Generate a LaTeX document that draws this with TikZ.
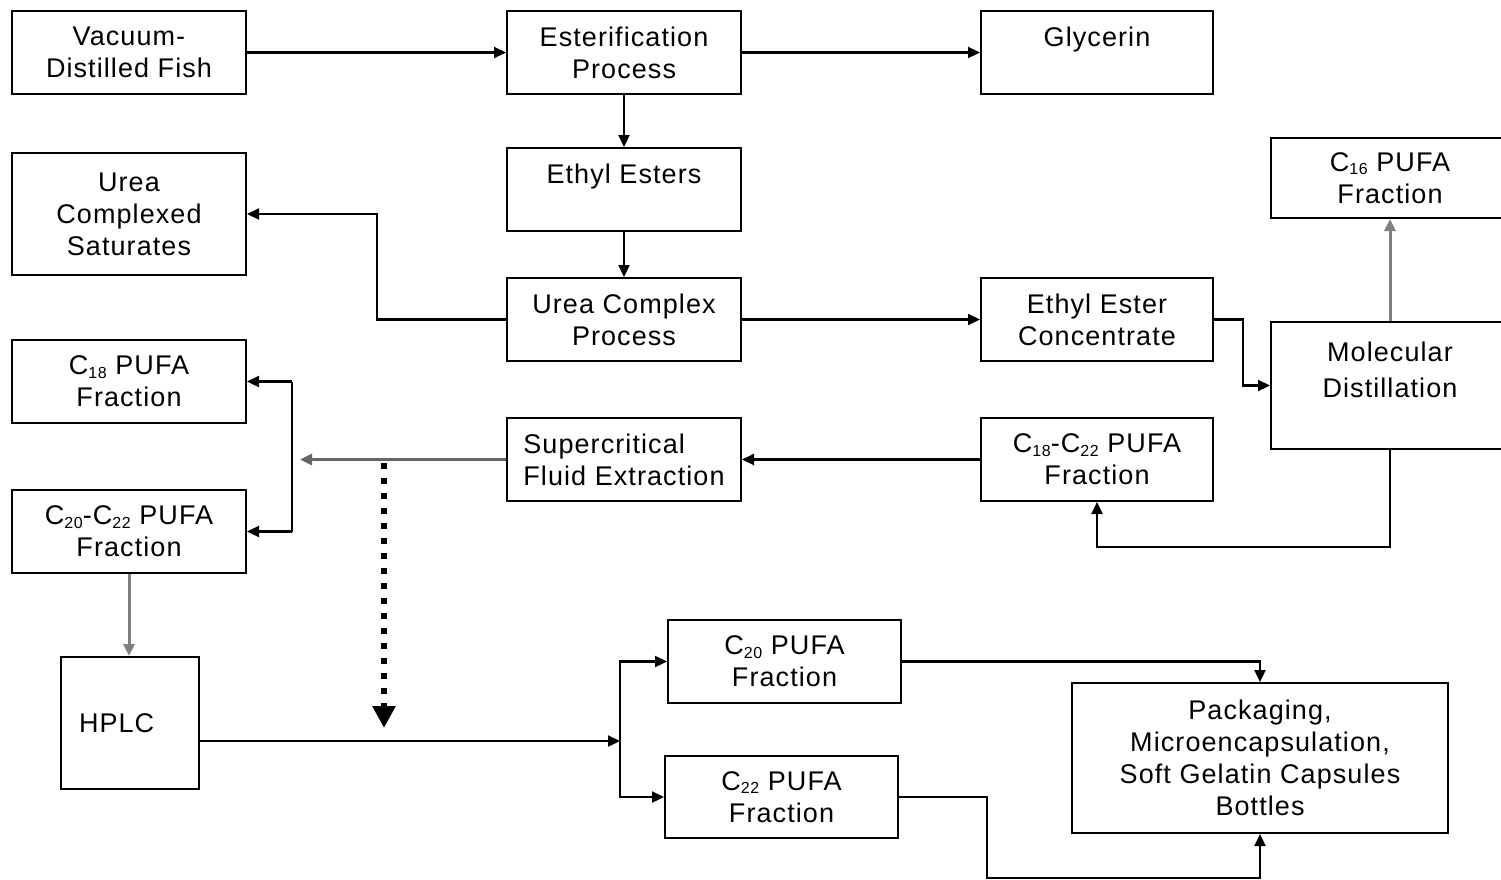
\documentclass[tikz,border=0pt]{standalone}
\usepackage{fontspec}
\setmainfont[LetterSpace=4]{Liberation Sans}
\usetikzlibrary{arrows.meta}
% small lowered digits for carbon-chain subscripts
\newcommand\chainsub[1]{\raisebox{-0.12em}{\fontsize{16}{16}\selectfont #1}}
\begin{document}
\begin{tikzpicture}[x=1pt,y=-1pt,
  box/.style 2 args={draw, line width=2pt, minimum width=#1pt, minimum height=#2pt,
    inner sep=0pt, align=center, font=\fontsize{27}{32}\selectfont},
  conn/.style={line width=2.2pt, -{Triangle[length=12pt,width=11pt]}},
  greyconn/.style={conn, line width=3pt, draw=black!50, fill=black},
  dotflow/.style={line width=6pt, line cap=butt, dash pattern=on 6pt off 9pt,
    -{Triangle[length=22pt,width=22pt]}}
]
\useasboundingbox (0,0) rectangle (1501,879);
\clip (0,0) rectangle (1501,879);

% process boxes
\node[box={234}{83}] (vac) at (129,52.5) {Vacuum-\\Distilled Fish};
\node[box={234}{83}] (est) at (624,52.5) {Esterification\\Process};
\node[box={232}{83}] (gly) at (1097,52.5) {Glycerin\\\mbox{}};
\node[box={234}{83}] (ee) at (624,189.5) {Ethyl Esters\\\mbox{}};
\node[box={234}{122}] (ucs) at (129,214) {Urea\\Complexed\\Saturates};
\node[box={234}{83}] (ucp) at (624,319.5) {Urea Complex\\Process};
\node[box={232}{83}] (eec) at (1097,319.5) {Ethyl Ester\\Concentrate};
\node[box={238}{80}] (c16) at (1390,178) {C\chainsub{16} PUFA\\Fraction};
\node[box={238}{127}] (mol) at (1390,385.5) {Molecular\\[4pt]Distillation\\\mbox{}};
\node[box={234}{83}] (c18) at (129,381.5) {C\chainsub{18} PUFA\\Fraction};
\node[box={234}{83}, align=left] (sfe) at (624,459.5) {Supercritical\\Fluid Extraction};
\node[box={232}{83}] (c1822) at (1097,459.5) {C\chainsub{18}-C\chainsub{22} PUFA\\Fraction};
\node[box={234}{83}] (c2022) at (129,531.5) {C\chainsub{20}-C\chainsub{22} PUFA\\Fraction};
\node[box={138}{132}, text width=102pt, align=left] (hplc) at (130,723) {HPLC};
\node[box={233}{83}] (c20) at (784.5,661.5) {C\chainsub{20} PUFA\\Fraction};
\node[box={233}{82}] (c22) at (781.5,797) {C\chainsub{22} PUFA\\Fraction};
\node[box={376}{150}] (pack) at (1260,758) {Packaging,\\Microencapsulation,\\Soft Gelatin Capsules\\Bottles};

% junction points
\coordinate (sfeout) at (300,459.5);
\coordinate (split1) at (292,459.5);
\coordinate (dtop) at (384,463);
\coordinate (dbot) at (384,728);
\coordinate (split2) at (620,741);
\coordinate (low) at (987,878);

% flow connectors
\draw[conn] (vac.east) -- (est.west);
\draw[conn] (est.east) -- (gly.west);
\draw[conn] (est.south) -- (ee.north);
\draw[conn] (ee.south) -- (ucp.north);
\draw[conn] (ucp.west) -- (377,319.5) |- (ucs.east);
\draw[conn] (ucp.east) -- (eec.west);
\draw[conn] (eec.east) -- (1243,319.5) |- (mol.west);
\draw[greyconn] (mol.north) -- (c16.south);
\draw[conn] (mol.south) -- (1390,547) -| (c1822.south);
\draw[conn] (c1822.west) -- (sfe.east);
\draw[greyconn, draw=black!60] (sfe.west) -- (sfeout);
\draw[conn] (split1 |- c18.east) -- (c18.east);
\draw[line width=2.2pt] (split1 |- c18.east) -- (split1 |- c2022.east);
\draw[conn] (split1 |- c2022.east) -- (c2022.east);
\draw[dotflow] (dtop) -- (dbot);
\draw[greyconn] (c2022.south) -- (c2022.south |- hplc.north);
\draw[conn] (hplc.east |- split2) -- (split2);
\draw[conn] (split2) |- (c20.west);
\draw[conn] (split2) |- (c22.west);
\draw[conn] (c20.east) -| (pack.north);
\draw[conn] (c22.east) -| (low) -| (pack.south);
\end{tikzpicture}
\end{document}
